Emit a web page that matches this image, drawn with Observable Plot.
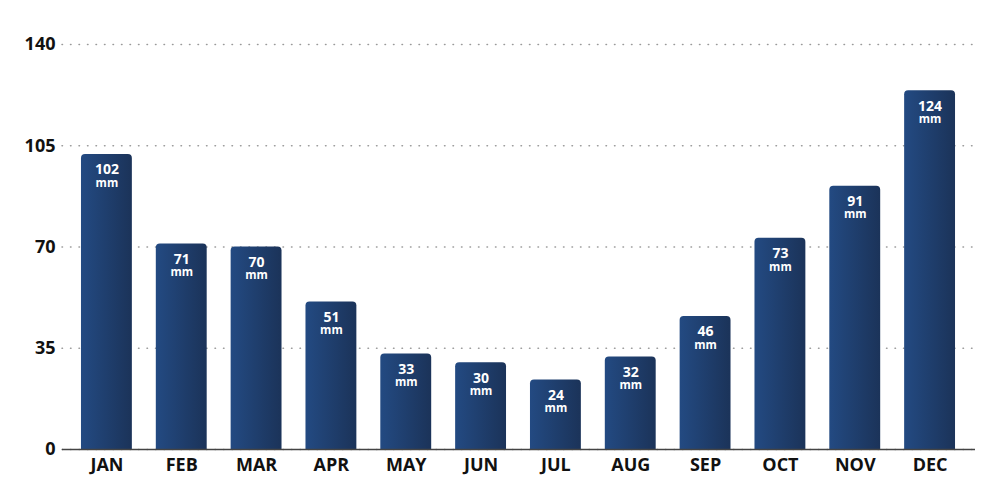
<!DOCTYPE html>
<html><head><meta charset="utf-8">
<script src="https://cdn.jsdelivr.net/npm/d3@7"></script>
<script src="https://cdn.jsdelivr.net/npm/@observablehq/plot@0.6"></script>
<style>
body{margin:0;background:#fff;font-family:"Open Sans",sans-serif;}
</style></head>
<body><div id="chart"></div>
<script>
const months = ["JAN","FEB","MAR","APR","MAY","JUN","JUL","AUG","SEP","OCT","NOV","DEC"];
const rainfall = [102,71,70,51,33,30,24,32,46,73,91,124];
const yTicks = [0,35,70,105,140];
const unit = "mm";

const data = months.map((m,i)=>({month:m, value:rainfall[i]}));

const defs = () => {
  const d = d3.create("svg:defs");
  const g = d.append("linearGradient").attr("id","barGrad").attr("x1","0").attr("x2","1").attr("y1","0").attr("y2","0");
  g.append("stop").attr("offset","0%").attr("stop-color","#234a82");
  g.append("stop").attr("offset","100%").attr("stop-color","#1b3359");
  return d.node();
};

const chart = Plot.plot({
  width:1000, height:500,
  marginLeft:62, marginRight:25, marginTop:44, marginBottom:51,
  style:{fontFamily:"'Open Sans', sans-serif", background:"#fff"},
  x:{domain:months, range:[69,967], paddingInner:0.32, paddingOuter:0.16, round:false, label:null},
  y:{domain:[0,140], ticks:yTicks, label:null},
  marks:[
    defs,
    Plot.gridY(yTicks,{stroke:"#999", strokeOpacity:1, strokeWidth:1.5, strokeDasharray:"0.5 8", strokeLinecap:"round"}),
    Plot.barY(data,{x:"month", y1:()=>-3, y2:"value", fill:"url(#barGrad)", rx:4, clip:"frame"}),
    Plot.ruleY([0],{stroke:"#444", strokeWidth:1.5}),
    Plot.axisY(yTicks,{tickSize:0, tickPadding:7, fontSize:18, fontWeight:700, fill:"#111", tickFormat:d=>d}),
    Plot.axisX({tickSize:0, tickPadding:9, fontSize:18, fontWeight:700, fill:"#111"}),
    Plot.text(data,{x:"month", y:"value", text:d=>String(d.value), dy:15.5, fill:"#fff", fontSize:14, fontWeight:700}),
    Plot.text(data,{x:"month", y:"value", text:()=>unit, dy:28.5, fill:"#fff", fontSize:11.5, fontWeight:700})
  ]
});
document.getElementById("chart").appendChild(chart);
</script></body></html>
